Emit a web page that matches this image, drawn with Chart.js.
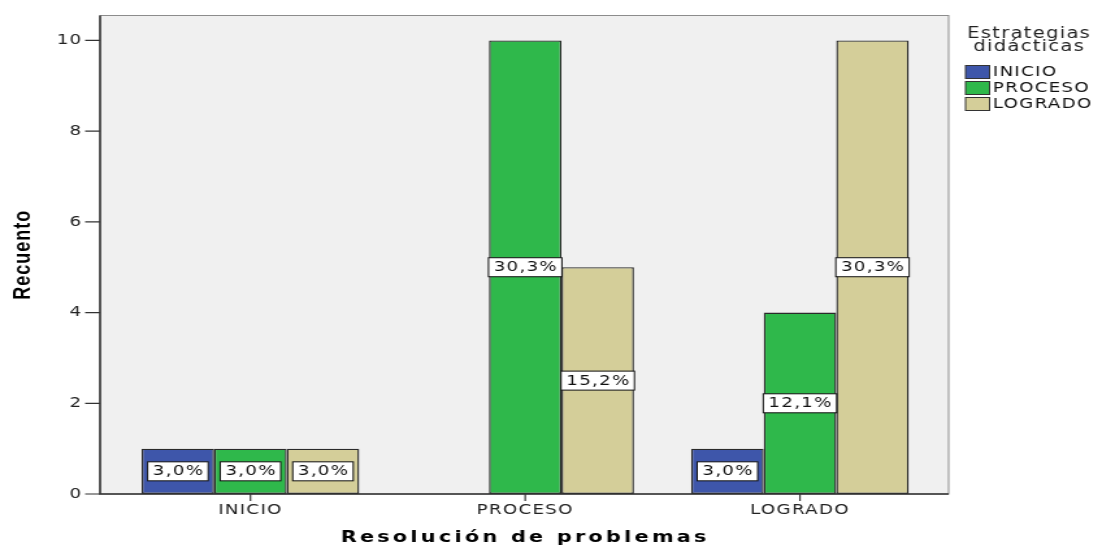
<!DOCTYPE html>
<html lang="es">
<head>
<meta charset="UTF-8">
<title>Resolución de problemas</title>
<script src="https://cdn.jsdelivr.net/npm/chart.js"></script>
<style>
  html, body { margin: 0; padding: 0; background: #fff; overflow: hidden; }
  /* el grafico original viene estirado a lo ancho */
  #grafico { display: block; transform: scaleX(1.2995); transform-origin: 0 0; }
</style>
</head>
<body>
<canvas id="grafico" width="848" height="546"></canvas>
<script>
  const categorias = ['INICIO', 'PROCESO', 'LOGRADO'];
  const serieInicio = [1, 0, 1];
  const serieProceso = [1, 10, 4];
  const serieLogrado = [1, 5, 10];
  const ticksY = [0, 2, 4, 6, 8, 10];
  const tituloLeyenda = ['Estrategias', 'didácticas'];

  const totalCasos = [...serieInicio, ...serieProceso, ...serieLogrado].reduce((a, b) => a + b, 0);

  function porcentaje(v) {
    return (v / totalCasos * 100).toFixed(1).replace('.', ',') + '%';
  }

  const marco = {
    id: 'marco',
    beforeDraw(chart) {
      const ctx = chart.ctx;
      const a = chart.chartArea;
      ctx.letterSpacing = '1px';
      ctx.save();
      ctx.fillStyle = '#f0f0f0';
      ctx.fillRect(77, a.top, 653, a.bottom - a.top);
      ctx.strokeStyle = '#8c8c8c';
      ctx.lineWidth = 1;
      ctx.strokeRect(77, a.top, 653, a.bottom - a.top);
      ctx.restore();
    },
    afterDatasetsDraw(chart) {
      const ctx = chart.ctx;
      ctx.save();
      ctx.font = '14px "DejaVu Sans"';
      ctx.textAlign = 'center';
      ctx.textBaseline = 'middle';
      chart.data.datasets.forEach((ds, i) => {
        chart.getDatasetMeta(i).data.forEach((bar, j) => {
          const v = ds.data[j];
          if (!v) return;
          const txt = porcentaje(v);
          const w = ctx.measureText(txt).width + 7;
          const cy = (bar.y + bar.base) / 2;
          ctx.fillStyle = '#fff';
          ctx.fillRect(bar.x - w / 2, cy - 9.5, w, 19);
          ctx.strokeStyle = '#111';
          ctx.lineWidth = 1;
          ctx.strokeRect(bar.x - w / 2, cy - 9.5, w, 19);
          ctx.fillStyle = '#111';
          ctx.fillText(txt, bar.x + 0.5, cy + 0.5);
        });
      });
      ctx.restore();
    },
    afterDraw(chart) {
      const ctx = chart.ctx;
      const a = chart.chartArea;
      const y = chart.scales.y;
      const x = chart.scales.x;
      ctx.save();
      // ejes
      ctx.strokeStyle = '#333';
      ctx.lineWidth = 1.5;
      ctx.beginPath();
      ctx.moveTo(77, a.top);
      ctx.lineTo(77, a.bottom);
      ctx.lineTo(730, a.bottom);
      ctx.stroke();
      ctx.lineWidth = 1.2;
      ctx.beginPath();
      y.ticks.forEach(t => {
        const py = y.getPixelForValue(t.value);
        ctx.moveTo(65.5, py);
        ctx.lineTo(77, py);
      });
      categorias.forEach((c, i) => {
        const px = x.getPixelForValue(i);
        ctx.moveTo(px, a.bottom);
        ctx.lineTo(px, a.bottom + 7);
      });
      ctx.stroke();

      // titulo eje x
      ctx.letterSpacing = '2.5px';
      ctx.font = 'bold 16px "DejaVu Sans"';
      ctx.fillStyle = '#000';
      ctx.textAlign = 'center';
      ctx.textBaseline = 'middle';
      ctx.fillText('Resolución de problemas', (a.left + a.right) / 2, 537.5);

      // leyenda
      ctx.letterSpacing = '1px';
      ctx.font = '15px "DejaVu Sans"';
      ctx.fillStyle = '#222';
      ctx.fillText(tituloLeyenda[0], 792, 34);
      ctx.fillText(tituloLeyenda[1], 792, 47.5);
      ctx.font = '14px "DejaVu Sans"';
      ctx.textAlign = 'left';
      chart.data.datasets.forEach((ds, i) => {
        const cy = 72 + i * 16;
        ctx.fillStyle = ds.backgroundColor;
        ctx.fillRect(743, cy - 6.5, 18.5, 13);
        ctx.strokeStyle = '#333';
        ctx.lineWidth = 1;
        ctx.strokeRect(743, cy - 6.5, 18.5, 13);
        ctx.fillStyle = '#111';
        ctx.fillText(ds.label, 764, cy + 0.5);
      });
      ctx.restore();
    }
  };

  Chart.defaults.font.family = '"DejaVu Sans"';

  const ctx = document.getElementById('grafico').getContext('2d');
  new Chart(ctx, {
    type: 'bar',
    data: {
      labels: categorias,
      datasets: [
        { label: 'INICIO', data: serieInicio, backgroundColor: '#3e56aa' },
        { label: 'PROCESO', data: serieProceso, backgroundColor: '#2fb84b' },
        { label: 'LOGRADO', data: serieLogrado, backgroundColor: '#d4ce99' }
      ].map(d => Object.assign(d, {
        borderColor: '#2a2a2a',
        borderWidth: 1.4,
        borderSkipped: false,
        categoryPercentage: 0.792,
        barPercentage: 1
      }))
    },
    options: {
      responsive: false,
      devicePixelRatio: 1,
      animation: false,
      layout: { padding: { top: 15.5, right: 126.7, bottom: 0, left: 0 } },
      plugins: {
        legend: { display: false },
        tooltip: { enabled: false }
      },
      scales: {
        x: {
          grid: { display: false, drawTicks: false },
          border: { display: false },
          ticks: { color: '#222', font: { size: 14 }, padding: 8 },
          afterFit(s) {
            s.height = 52;
            s.paddingLeft = 0;
            s.paddingRight = 0;
          }
        },
        y: {
          min: 0,
          max: 10.55,
          grid: { display: false, drawTicks: false },
          border: { display: false },
          ticks: { color: '#222', font: { size: 14 }, padding: 23.5 },
          afterBuildTicks(s) { s.ticks = ticksY.map(v => ({ value: v })); },
          afterFit(s) {
            s.width = 87;
            s.paddingTop = 0;
            s.paddingBottom = 0;
          },
          title: {
            display: true,
            text: 'Recuento',
            color: '#000',
            font: { family: '"Liberation Sans"', weight: 'bold', size: 18, lineHeight: 1 },
            padding: { top: 8.7, bottom: 0 }
          }
        }
      }
    },
    plugins: [marco]
  });
</script>
</body>
</html>
